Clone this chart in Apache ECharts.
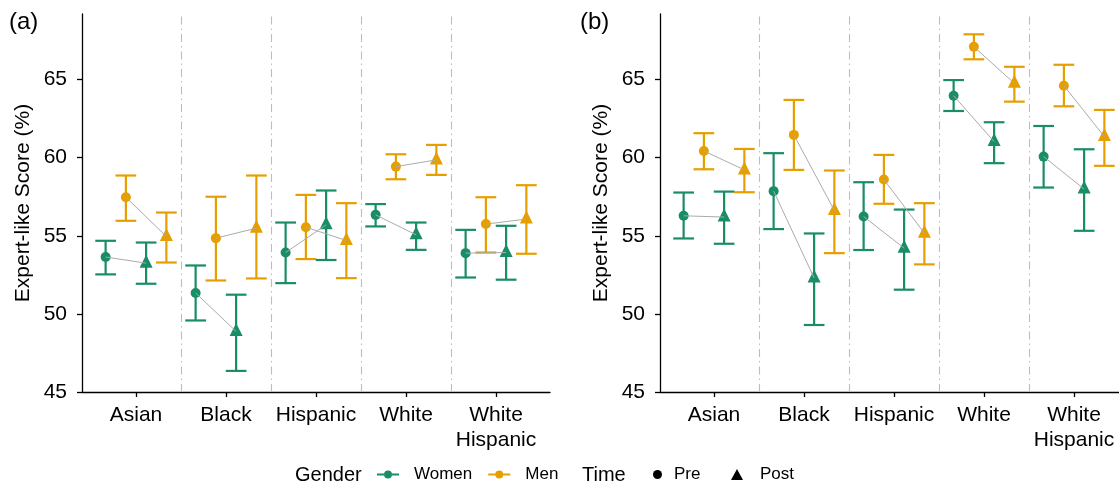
<!DOCTYPE html>
<html>
<head>
<meta charset="utf-8">
<script src="https://cdn.jsdelivr.net/npm/echarts@6/dist/echarts.min.js"></script>
<style>html,body{margin:0;padding:0;background:#fff}#c{width:1119px;height:487px}</style>
</head>
<body>
<div id="c"></div>
<script>
// ---- data ----
const categories = ['Asian', 'Black', 'Hispanic', 'White', 'White\nHispanic'];
const yTicks = [45, 50, 55, 60, 65];
// each entry: [mean, lower, upper]
// panel (a)
const a_women_pre  = [[53.64, 52.53, 54.68], [51.34, 49.58, 53.10], [53.93, 51.97, 55.85], [56.34, 55.60, 57.03], [53.89, 52.33, 55.38]];
const a_women_post = [[53.25, 51.93, 54.57], [48.88, 46.35, 51.23], [55.70, 53.45, 57.90], [55.06, 54.10, 55.85], [53.93, 52.19, 55.64]];
const a_men_pre    = [[57.47, 55.96, 58.86], [54.85, 52.14, 57.50], [55.55, 53.51, 57.62], [59.43, 58.62, 60.22], [55.75, 53.93, 57.47]];
const a_men_post   = [[54.96, 53.29, 56.49], [55.49, 52.27, 58.86], [54.70, 52.29, 57.09], [59.86, 58.90, 60.82], [56.07, 53.85, 58.24]];
// panel (b)
const b_women_pre  = [[56.28, 54.83, 57.77], [57.86, 55.43, 60.29], [56.23, 54.09, 58.43], [63.97, 62.99, 64.97], [60.07, 58.09, 62.03]];
const b_women_post = [[56.20, 54.49, 57.83], [52.30, 49.29, 55.15], [54.21, 51.55, 56.68], [61.03, 59.65, 62.27], [57.99, 55.32, 60.54]];
const b_men_pre    = [[60.43, 59.26, 61.57], [61.46, 59.22, 63.70], [58.60, 57.05, 60.18], [67.10, 66.30, 67.90], [64.61, 63.29, 65.95]];
const b_men_post   = [[59.22, 57.79, 60.56], [56.62, 53.89, 59.18], [55.17, 53.17, 57.09], [64.76, 63.59, 65.82], [61.35, 59.48, 63.06]];

// ---- styling ----
const FONT = 'Liberation Sans, Arial, Helvetica, sans-serif';
const GREEN = '#198C68';
const ORANGE = '#E69F00';
const CAP = 0.23;
const OFF = { womenPre: -0.3375, menPre: -0.1125, womenPost: 0.1125, menPost: 0.3375 };

function errSeries(panel, data, off, color) {
  return {
    type: 'custom', xAxisIndex: panel, yAxisIndex: panel, z: 2, silent: true,
    data: data.map((d, i) => [i + 1 + off, d[1], d[2]]),
    encode: { x: 0, y: [1, 2] },
    renderItem: (params, api) => {
      const x = api.value(0);
      const lo = api.coord([x, api.value(1)]);
      const hi = api.coord([x, api.value(2)]);
      const half = api.size([CAP, 0])[0] / 2;
      const st = { stroke: color, lineWidth: 2.2, fill: null };
      return { type: 'group', children: [
        { type: 'line', shape: { x1: lo[0], y1: lo[1], x2: hi[0], y2: hi[1] }, style: st },
        { type: 'line', shape: { x1: lo[0] - half, y1: lo[1], x2: lo[0] + half, y2: lo[1] }, style: st },
        { type: 'line', shape: { x1: hi[0] - half, y1: hi[1], x2: hi[0] + half, y2: hi[1] }, style: st }
      ]};
    }
  };
}
function pointSeries(panel, data, off, color, isPre) {
  return {
    type: 'scatter', xAxisIndex: panel, yAxisIndex: panel, z: 3, silent: true,
    symbol: isPre ? 'circle' : 'triangle',
    symbolSize: isPre ? 10 : 13,
    symbolOffset: isPre ? [0, 0] : [0, -2],
    itemStyle: { color: color, opacity: 1 },
    data: data.map((d, i) => [i + 1 + off, d[0]])
  };
}
function linkSeries(panel, pre, post, offPre, offPost) {
  return {
    type: 'custom', xAxisIndex: panel, yAxisIndex: panel, z: 4, silent: true,
    data: pre.map((d, i) => [i + 1 + offPre, d[0], i + 1 + offPost, post[i][0]]),
    encode: { x: [0, 2], y: [1, 3] },
    renderItem: (params, api) => {
      const p1 = api.coord([api.value(0), api.value(1)]);
      const p2 = api.coord([api.value(2), api.value(3)]);
      return { type: 'line', shape: { x1: p1[0], y1: p1[1], x2: p2[0], y2: p2[1] },
               style: { stroke: '#ABABAB', lineWidth: 1 } };
    }
  };
}
function dividerSeries(panel) {
  return {
    type: 'line', xAxisIndex: panel, yAxisIndex: panel, z: 1, data: [], silent: true,
    markLine: {
      silent: true, symbol: ['none', 'none'], animation: false,
      label: { show: false },
      lineStyle: { color: '#BDBDBD', width: 1.1, type: [8, 4, 1.5, 4] },
      emphasis: { disabled: true },
      data: categories.slice(1).map((c, i) => ({ xAxis: i + 1.5 }))
    }
  };
}
function panelSeries(panel, wPre, wPost, mPre, mPost) {
  return [
    dividerSeries(panel),
    errSeries(panel, wPre, OFF.womenPre, GREEN),
    errSeries(panel, mPre, OFF.menPre, ORANGE),
    errSeries(panel, wPost, OFF.womenPost, GREEN),
    errSeries(panel, mPost, OFF.menPost, ORANGE),
    pointSeries(panel, wPre, OFF.womenPre, GREEN, true),
    pointSeries(panel, mPre, OFF.menPre, ORANGE, true),
    pointSeries(panel, wPost, OFF.womenPost, GREEN, false),
    pointSeries(panel, mPost, OFF.menPost, ORANGE, false),
    linkSeries(panel, wPre, wPost, OFF.womenPre, OFF.womenPost),
    linkSeries(panel, mPre, mPost, OFF.menPre, OFF.menPost)
  ];
}

const xTickVals = categories.map((c, i) => i + 1);
// panel (b) is cut off at the right edge of the picture, so its axis stops at 5.5
function xAxisDef(i, maxV) {
  return {
    type: 'value', gridIndex: i, min: 0.4, max: maxV,
    axisLine: { show: true, onZero: false, lineStyle: { color: '#000', width: 1.3 } },
    axisTick: { show: true, customValues: xTickVals, length: 5, lineStyle: { color: '#000', width: 1.3 } },
    axisLabel: { show: true, customValues: xTickVals, formatter: v => categories[Math.round(v) - 1],
                 fontSize: 21, color: '#000', margin: 11, lineHeight: 25, fontFamily: FONT },
    splitLine: { show: false }
  };
}
function yAxisDef(i) {
  return {
    type: 'value', gridIndex: i, min: 45, max: 69.2, interval: 5,
    name: 'Expert-like Score (%)', nameLocation: 'middle', nameGap: 48,
    nameTextStyle: { fontSize: 21, color: '#000', fontFamily: FONT },
    axisLine: { show: true, onZero: false, lineStyle: { color: '#000', width: 1.3 } },
    axisTick: { show: true, customValues: yTicks, length: 5, lineStyle: { color: '#000', width: 1.3 } },
    axisLabel: { show: true, customValues: yTicks, fontSize: 21, color: '#000', margin: 15, fontFamily: FONT },
    splitLine: { show: false }
  };
}

const lineDot = 'path://M0,3 L7,3 L7,5 L0,5 Z M15,3 L22,3 L22,5 L15,5 Z M7,4 A4,4 0 1 1 15,4 A4,4 0 1 1 7,4 Z';
const legendText = { fontSize: 17, color: '#000', fontFamily: FONT };

const option = {
  animation: false,
  backgroundColor: '#fff',
  grid: [
    { left: 82, top: 14, width: 468, height: 378 },
    { left: 660, top: 14, width: 459, height: 378 }
  ],
  xAxis: [xAxisDef(0, 5.6), xAxisDef(1, 5.5)],
  yAxis: [yAxisDef(0), yAxisDef(1)],
  legend: [
    { left: 377, top: 466, padding: 0, itemWidth: 22, itemHeight: 8, itemGap: 16, selectedMode: false,
      data: [{ name: 'Women', icon: lineDot }, { name: 'Men', icon: lineDot }],
      itemStyle: { opacity: 1 },
      textStyle: Object.assign({ padding: [0, 0, 0, 10] }, legendText) },
    { left: 653, top: 466, padding: 0, itemWidth: 9, itemHeight: 9, selectedMode: false,
      data: [{ name: 'Pre', icon: 'circle' }],
      itemStyle: { opacity: 1 },
      textStyle: Object.assign({ padding: [0, 0, 0, 7] }, legendText) },
    { left: 731, top: 466, padding: 0, itemWidth: 12, itemHeight: 11, selectedMode: false,
      data: [{ name: 'Post', icon: 'triangle' }],
      itemStyle: { opacity: 1 },
      textStyle: Object.assign({ padding: [0, 0, 0, 12] }, legendText) }
  ],
  graphic: [
    { type: 'text', left: 9, top: 10, style: { text: '(a)', fontSize: 24, fill: '#000', fontFamily: FONT } },
    { type: 'text', left: 580, top: 10, style: { text: '(b)', fontSize: 24, fill: '#000', fontFamily: FONT } },
    { type: 'text', left: 295, top: 465, style: { text: 'Gender', fontSize: 20, fill: '#000', fontFamily: FONT } },
    { type: 'text', left: 582, top: 465, style: { text: 'Time', fontSize: 20, fill: '#000', fontFamily: FONT } }
  ],
  series: [].concat(
    panelSeries(0, a_women_pre, a_women_post, a_men_pre, a_men_post),
    panelSeries(1, b_women_pre, b_women_post, b_men_pre, b_men_post),
    [
      { name: 'Women', type: 'scatter', data: [], itemStyle: { color: GREEN, opacity: 1 } },
      { name: 'Men', type: 'scatter', data: [], itemStyle: { color: ORANGE, opacity: 1 } },
      { name: 'Pre', type: 'scatter', data: [], itemStyle: { color: '#000', opacity: 1 } },
      { name: 'Post', type: 'scatter', data: [], itemStyle: { color: '#000', opacity: 1 } }
    ]
  )
};

const chart = echarts.init(document.getElementById('c'), null, { renderer: 'canvas' });
chart.setOption(option);
</script>
</body>
</html>
